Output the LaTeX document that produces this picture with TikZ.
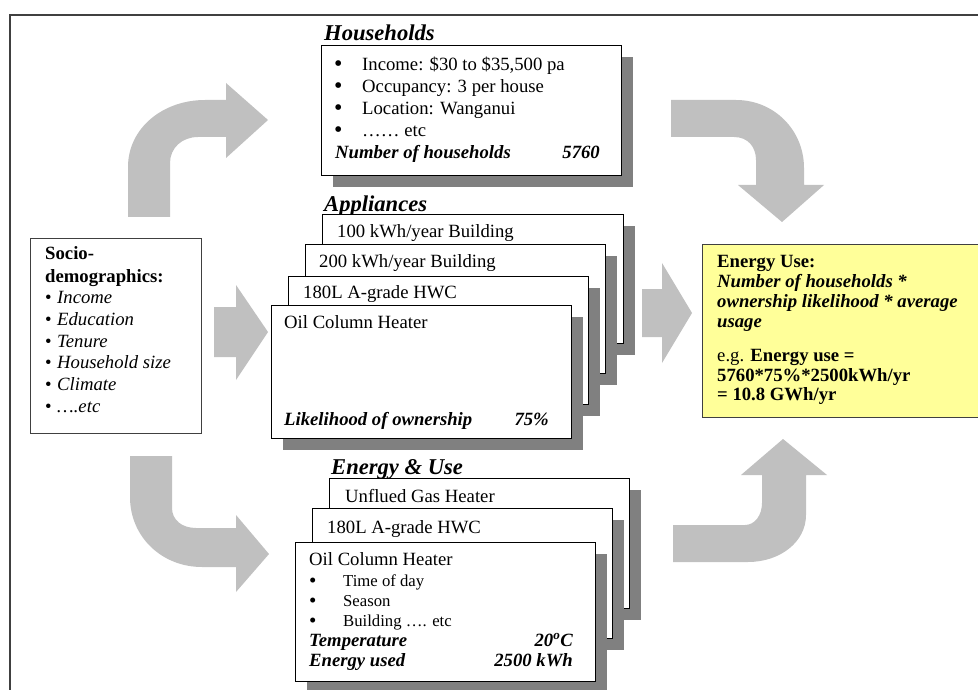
\documentclass[tikz,border=0pt]{standalone}
\usepackage{fontspec}
\setmainfont{Liberation Serif}
\definecolor{arrowgray}{HTML}{C0C0C0}
\definecolor{shadowgray}{HTML}{808080}
\definecolor{framegray}{HTML}{404040}
\definecolor{energyyellow}{HTML}{FFFF99}
\tikzset{
  tx/.style={anchor=base west, inner sep=0pt, font=\fontsize{18.7}{22}\selectfont},
  txb/.style={tx, font=\fontsize{18.7}{22}\selectfont\bfseries},
  txbi/.style={tx, font=\fontsize{18.7}{22}\selectfont\bfseries\itshape},
  txr/.style={anchor=base east, inner sep=0pt, font=\fontsize{18.7}{22}\selectfont\bfseries\itshape},
  txs/.style={anchor=base west, inner sep=0pt, font=\fontsize{16.7}{20}\selectfont},
  bul/.style={anchor=base west, inner sep=0pt, font=\fontsize{24}{24}\selectfont},
  buls/.style={anchor=base west, inner sep=0pt, font=\fontsize{21}{21}\selectfont},
  ttl/.style={anchor=base west, inner sep=0pt, font=\fontsize{22.6}{26}\selectfont\bfseries\itshape},
  boxst/.style={draw=black, fill=white, line width=1.2pt, inner sep=0pt, anchor=north west},
  shd/.style={fill=shadowgray},
  arr/.style={fill=arrowgray, draw=none},
}
\newcommand{\mybox}[5]{%
  \fill[shd] (#2+12,#3+12) rectangle (#4+12,#5+12);
  \node[boxst, minimum width={#4-#2}, minimum height={#5-#3}] (#1) at (#2,#3) {};
}
\begin{document}
\begin{tikzpicture}[x=1pt,y=-1pt]
\useasboundingbox (0,0) rectangle (978,690);
\clip (0,0) rectangle (978,690);
\fill[white] (0,0) rectangle (978,690);
% frame
\draw[framegray, line width=1.1pt] (10,700) -- (10,15) -- (990,15);

% block arrows
\path[arr] (128,217) -- (128,167) .. controls (128,128) and (163,100) .. (205,100) -- (226,100) -- (226,83) -- (268,120) -- (226,158) -- (226,137) -- (198,137) .. controls (182,137) and (170,148) .. (170,163) -- (170,217) -- cycle;
\path[arr] (671,100) -- (736,100) .. controls (774,100) and (804,130) .. (804,168) -- (804,185) -- (824,185) -- (782,222) -- (738,185) -- (756,185) -- (756,160) .. controls (756,147) and (748,137) .. (734,137) -- (671,137) -- cycle;
\path[arr] (214,307) -- (236,307) -- (236,285) -- (268,332) -- (236,380) -- (236,357) -- (214,357) -- cycle;
\path[arr] (642,289) -- (662,289) -- (662,263) -- (692,313) -- (662,363) -- (662,337) -- (642,337) -- cycle;
\path[arr] (130,456) -- (172,456) -- (172,508) .. controls (172,520) and (182,528) .. (196,528) -- (236,528) -- (236,515) -- (269,554) -- (236,592) -- (236,567) -- (202,567) .. controls (162,567) and (130,537) .. (130,497) -- cycle;
\path[arr] (673,525) -- (745,525) .. controls (755,525) and (762,515) .. (762,503) -- (762,475) -- (741,475) -- (783,439) -- (827,475) -- (806,475) -- (806,515) .. controls (806,542) and (780,562) .. (748,562) -- (673,562) -- cycle;

% Socio-demographics
\node[boxst, draw=framegray, line width=1pt, minimum width=171, minimum height=195] (socio) at (30,238) {};
\node[txb] (s1) at (45,259) {Socio-};
\node[txb] (s2) at (45,282) {demographics:};
\foreach \yy/\nm in {303/3,325/4,347/5,368/6,390/7,412/8}
  \node[tx] (sb\nm) at (45,\yy) {•};
\node[tx] (s3) at (57,303) {\textit{Income}};
\node[tx] (s4) at (57,325) {\textit{Education}};
\node[tx] (s5) at (57,347) {\textit{Tenure}};
\node[tx] (s6) at (57,368) {\textit{Household size}};
\node[tx] (s7) at (57,390) {\textit{Climate}};
\node[tx] (s8) at (57,412) {\textit{….etc}};

% Households
\node[ttl] (thh) at (324,41) {Households};
\mybox{hh}{321}{45}{621}{175}
\node[bul] (hb1) at (334,72) {•};
\node[bul] (hb2) at (334,94) {•};
\node[bul] (hb3) at (334,116) {•};
\node[bul] (hb4) at (334,138) {•};
\node[tx] (h1) at (362,71) {Income: \$30 to \$35,500 pa};
\node[tx] (h2) at (362,93) {Occupancy: 3 per house};
\node[tx] (h3) at (362,115) {Location: Wanganui};
\node[tx] (h4) at (362,137) {…… etc};
\node[txbi] (h5) at (335,159) {Number of households};
\node[txr] (h6) at (600,159) {5760};

% Appliances
\node[ttl] (tap) at (324,211.5) {Appliances};
\mybox{ap1}{322}{214}{623}{343}
\node[tx] (a1) at (337,237) {100 kWh/year Building};
\mybox{ap2}{305}{244}{605}{373}
\node[tx] (a2) at (319,267) {200 kWh/year Building};
\mybox{ap3}{288}{276}{588}{404}
\node[tx] (a3) at (303,298) {180L A-grade HWC};
\mybox{ap4}{271}{305}{571}{438}
\node[tx] (a4) at (284,328) {Oil Column Heater};
\node[txbi] (a5) at (284,425) {Likelihood of ownership};
\node[txr] (a6) at (549,425) {75\%};

% Energy & Use
\node[ttl] (teu) at (331,474.5) {Energy \& Use};
\mybox{eu1}{329}{478}{629}{608}
\node[tx] (e1) at (345,502) {Unflued Gas Heater};
\mybox{eu2}{312}{508}{612}{638}
\node[tx] (e2) at (327,533) {180L A-grade HWC};
\mybox{eu3}{295}{542}{595}{681}
\node[tx] (e3) at (309,565) {Oil Column Heater};
\node[buls] (eb1) at (309,587) {•};
\node[buls] (eb2) at (309,607) {•};
\node[buls] (eb3) at (309,627) {•};
\node[txs] (e4) at (343,586) {Time of day};
\node[txs] (e5) at (343,606) {Season};
\node[txs] (e6) at (343,626) {Building …. etc};
\node[txbi] (e7) at (309,646) {Temperature};
\node[txr] (e8) at (573,646) {20\textsuperscript{o}C};
\node[txbi] (e9) at (309,666) {Energy used};
\node[txr] (e10) at (573,666) {2500 kWh};

% Energy Use result
\node[boxst, draw=framegray, fill=energyyellow, line width=1pt, minimum width=290, minimum height=173] (euse) at (702,244) {};
\node[txb] (u1) at (717,267) {Energy Use:};
\node[txbi] (u2) at (717,287) {Number of households *};
\node[txbi] (u3) at (717,307) {ownership likelihood * average};
\node[txbi] (u4) at (717,327) {usage};
\node[tx] (u5) at (717,361) {e.g. \textbf{Energy use =}};
\node[txb] (u6) at (717,381) {5760*75\%*2500kWh/yr};
\node[txb] (u7) at (717,400) {= 10.8 GWh/yr};
\end{tikzpicture}
\end{document}
